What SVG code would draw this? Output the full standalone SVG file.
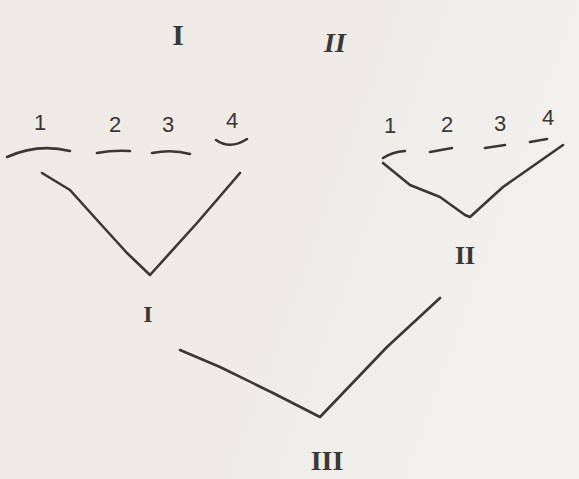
<svg xmlns="http://www.w3.org/2000/svg" width="579" height="479" viewBox="0 0 579 479">
<defs>
<linearGradient id="bg" x1="0" y1="0" x2="1" y2="0.3">
<stop offset="0" stop-color="#eeebe6"/>
<stop offset="0.6" stop-color="#efece8"/>
<stop offset="1" stop-color="#f2f1ee"/>
</linearGradient>
<style>
.ink{fill:none;stroke:#3b3733;stroke-width:2.6;stroke-linecap:round;stroke-linejoin:round}
.num{font-family:"Liberation Sans",Arial,sans-serif;font-size:22px;fill:#3b3733;text-anchor:middle}
.rom{font-family:"Liberation Serif","Times New Roman",serif;fill:#3b3733;text-anchor:middle;font-weight:bold}
</style>
</defs>
<rect width="579" height="479" fill="url(#bg)"/>
<g id="header">
<text class="rom" x="178" y="45" font-size="30">I</text>
<text class="rom" x="335" y="52" font-size="28" font-style="italic">II</text>
</g>
<g id="leaves-I">
<text class="num" x="40" y="130">1</text>
<text class="num" x="115" y="132">2</text>
<text class="num" x="168" y="132">3</text>
<text class="num" x="232" y="128">4</text>
<path class="ink" d="M7,157 Q38,143 70,151"/>
<path class="ink" d="M97,153 Q113,150 130,151"/>
<path class="ink" d="M152,153 Q172,149 190,154"/>
<path class="ink" d="M216,140 Q230,150 247,139"/>
</g>
<g id="leaves-II">
<text class="num" x="390" y="133">1</text>
<text class="num" x="447" y="132">2</text>
<text class="num" x="500" y="131">3</text>
<text class="num" x="548" y="125">4</text>
<path class="ink" d="M383,158 Q392,152 405,151"/>
<path class="ink" d="M430,152 L452,148"/>
<path class="ink" d="M485,148 L505,145"/>
<path class="ink" d="M530,142 L547,139"/>
</g>
<g id="node-I">
<text class="rom" x="148" y="322" font-size="24">I</text>
</g>
<g id="node-II">
<text class="rom" x="465" y="264" font-size="26">II</text>
</g>
<g id="node-III">
<text class="rom" x="327" y="470" font-size="28">III</text>
</g>
<g id="connectors">
<path class="ink" d="M42,173 L70,190 L97,220 L127,253 L150,275 L197,223 L240,173"/>
<path class="ink" d="M383,163 L410,185 L440,197 L465,215 L470,217 L503,187 L563,145"/>
<path class="ink" d="M180,350 L220,367 L273,393 L320,417 L387,347 L440,298"/>
</g>
</svg>
